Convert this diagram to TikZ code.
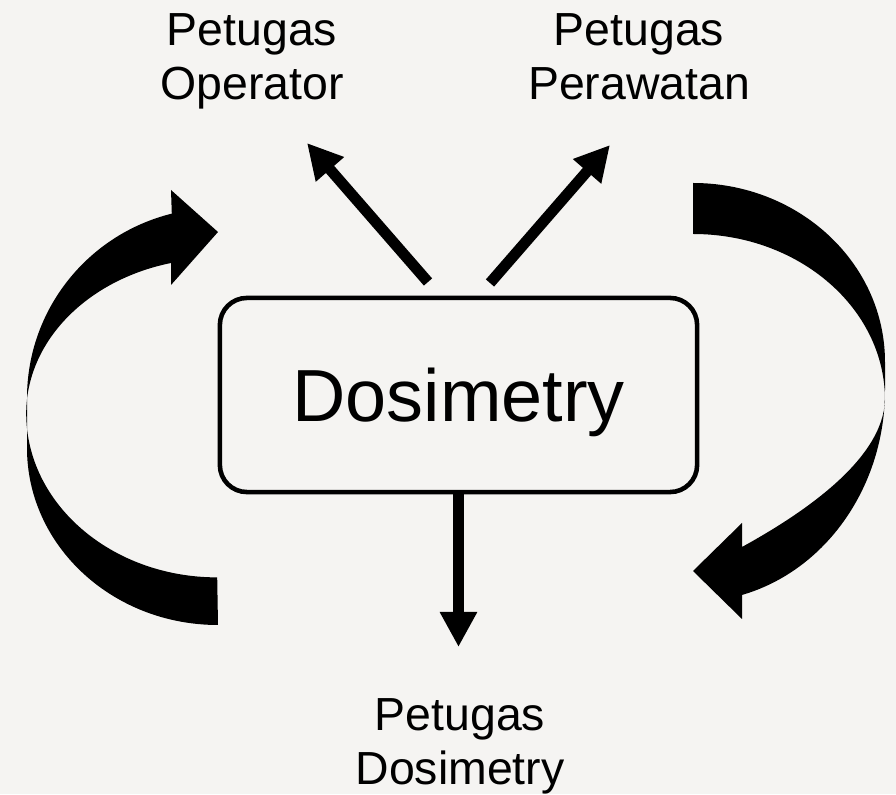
\documentclass[tikz,border=0pt]{standalone}
\usepackage{fontspec}
\setmainfont{Liberation Sans}
\usetikzlibrary{arrows.meta, positioning}

\definecolor{paper}{RGB}{245,244,242}

\begin{document}
\begin{tikzpicture}[x=0.01cm, y=-0.01cm,
  staff/.style={align=center, inner sep=0pt, anchor=north, font=\fontsize{13.2}{15.4}\selectfont},
  flow/.style={->, line width=3.1pt},
  >={Triangle[length=0.35cm, width=0.35cm]}]
% Background sheet
\fill[paper] (0,0) rectangle (896,794);

% Central box
\node[draw, line width=1.3pt, rounded corners=0.27cm, minimum width=4.77cm, minimum height=1.94cm,
  text depth=0pt, font=\fontsize{21}{25}\selectfont] (dos) at (458.5,395) {Dosimetry};

% Staff labels
\node[staff] (operator) at (252,13) {Petugas\\Operator};
\node[staff] (perawatan) at (639,13) {Petugas\\Perawatan};
\node[staff] (dosstaff) at (460,698) {Petugas\\Dosimetry};

% Arrow ends
\coordinate (opTail) at (428,282);
\coordinate (opTip) at (307,143);
\coordinate (prTail) at (490,283);
\coordinate (prTip) at (610,145);
\coordinate (dsTip) at (458.5,647);

\draw[flow] (opTail) -- (opTip);
\draw[flow] (prTail) -- (prTip);
\draw[flow] (dos) -- (dsTip);

% Curved arrow, left side (upwards)
\fill (218,625) arc[start angle=90, end angle=180, x radius=191, y radius=177]
  -- (27,398)
  arc[start angle=180, end angle=256, x radius=191, y radius=190]
  -- (171,190) -- (218,232) -- (171,285) -- (171,263)
  arc[start angle=256, end angle=180, x radius=191, y radius=155]
  arc[start angle=180, end angle=90, x radius=191, y radius=164]
  -- cycle;

% Curved arrow, right side (downwards)
\fill (693,183) arc[start angle=-90, end angle=0, x radius=192, y radius=179]
  -- (885,390)
  arc[start angle=0, end angle=75.2, x radius=192, y radius=212]
  -- (742,619) -- (693,571) -- (742,523) -- (742,547)
  .. controls (802,514) and (883,460) .. (885,400)
  arc[start angle=0, end angle=-90, x radius=192, y radius=166]
  -- cycle;
\end{tikzpicture}
\end{document}
